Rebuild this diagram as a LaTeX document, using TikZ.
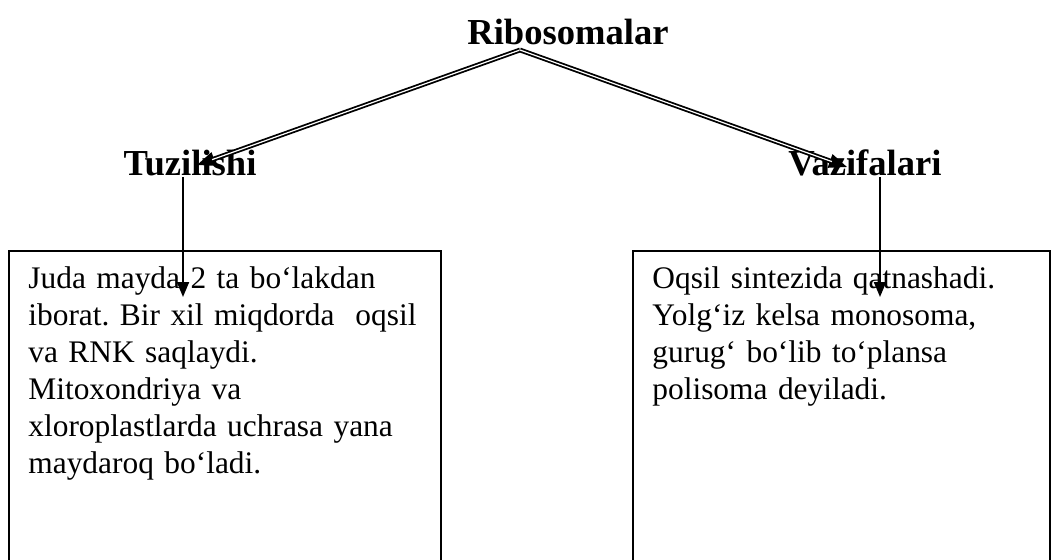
\documentclass[tikz,border=0pt]{standalone}
\usepackage{fontspec}
\setmainfont{Liberation Serif}
\usetikzlibrary{shapes,arrows.meta,positioning}

\begin{document}
\frenchspacing
\begin{tikzpicture}[x=0.5pt, y=-0.5pt,
        heading/.style={font=\fontsize{18.3}{21}\selectfont\bfseries, inner sep=0pt, anchor=base},
        box/.style={rectangle, draw, line width=1pt, minimum height=170pt, anchor=north west, inner sep=0pt},
        boxtext/.style={font=\fontsize{15.7}{18.5}\selectfont, text width=205pt, align=left, anchor=base west, inner sep=0pt},
        link/.style={preaction={draw, line width=1pt, shorten >=0pt, -{Triangle[length=9pt, width=7pt]}},
            double, double distance=0.6pt, line width=0.9pt, shorten >=8pt},
        arrow/.style={-{Triangle[length=7.5pt, width=6pt]}, line width=1pt}]

        \clip (0,0) rectangle (1051,559);

        % Headings
        \node[heading] (ribo) at (568,44) {Ribosomalar};
        \node[heading] (tuz) at (190,175) {Tuzilishi};
        \node[heading] (vaz) at (865,175) {Vazifalari};

        % Boxes
        \node[box, minimum width=216pt] (tuzbox) at (8,250) {};
        \node[box, minimum width=208.5pt] (vazbox) at (632,250) {};
        \node[boxtext] (tuztext) at (28,288) {Juda mayda 2 ta bo‘lakdan\\
            iborat. Bir xil miqdorda\ \ oqsil\\
            va RNK saqlaydi.\\
            Mitoxondriya va\\
            xloroplastlarda uchrasa yana\\
            maydaroq bo‘ladi.};
        \node[boxtext] (vaztext) at (652,288) {Oqsil sintezida qatnashadi.\\
            Yolg‘iz kelsa monosoma,\\
            gurug‘ bo‘lib to‘plansa\\
            polisoma deyiladi.};

        % Arrow ends
        \coordinate (apex) at (520,50);
        \coordinate (tuzin) at (197,165);
        \coordinate (vazin) at (847,167);
        \coordinate (tuzout) at (183,177);
        \coordinate (tuzend) at (183,297);
        \coordinate (vazout) at (880,177);
        \coordinate (vazend) at (880,297);

        % Arrows
        \draw[link] (apex) -- (tuzin);
        \draw[link] (apex) -- (vazin);
        \draw[arrow] (tuzout) -- (tuzend);
        \draw[arrow] (vazout) -- (vazend);

    \end{tikzpicture}
\end{document}
